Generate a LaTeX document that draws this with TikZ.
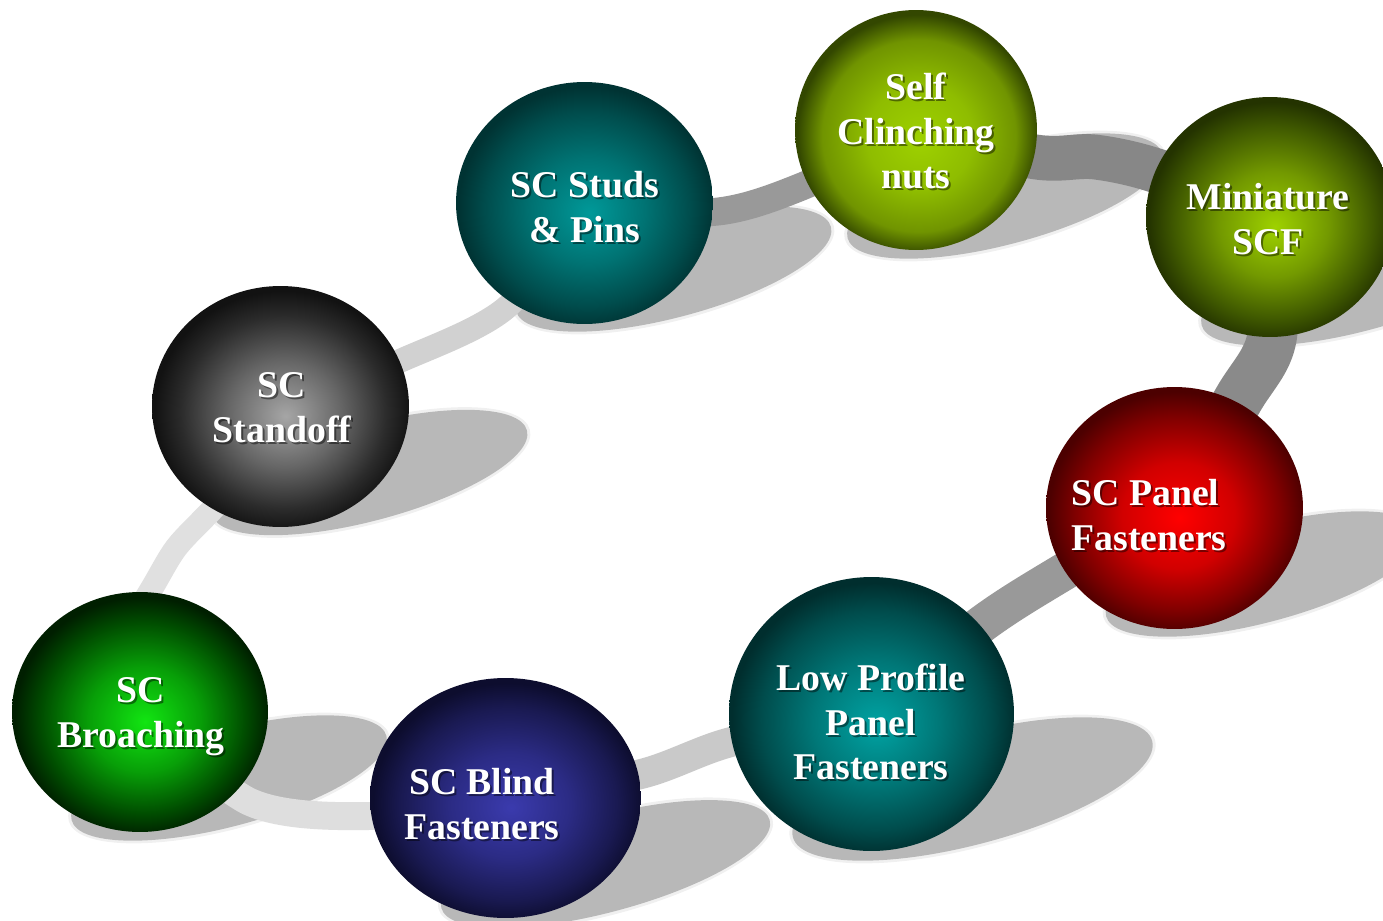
\documentclass[tikz,border=0pt]{standalone}
\usepackage{fontspec}
\setmainfont{Liberation Serif}
\usetikzlibrary{shapes.geometric,calc}
\pgfdeclarelayer{bg}
\pgfdeclarelayer{shad}
\pgfdeclarelayer{ringl}
\pgfsetlayers{bg,shad,ringl,main}
\newcommand\ballshade[5]{\pgfdeclareradialshading{#1}{\pgfpoint{1bp}{-2bp}}{rgb(0bp)=(#2);rgb(11bp)=(#3);rgb(20bp)=(#4);rgb(25bp)=(#5);rgb(50bp)=(#5)}}
\ballshade{shBroach}{0.07,0.9,0.07}{0.03,0.62,0.03}{0,0.3,0}{0,0.12,0}
\ballshade{shBlind}{0.23,0.23,0.68}{0.17,0.17,0.52}{0.1,0.1,0.32}{0.05,0.05,0.18}
\ballshade{shLow}{0,0.64,0.64}{0,0.47,0.47}{0,0.3,0.3}{0,0.18,0.18}
\ballshade{shPanel}{1,0,0}{0.82,0,0}{0.5,0,0}{0.3,0,0}
\ballshade{shMini}{0.62,0.82,0}{0.45,0.6,0}{0.25,0.35,0}{0.14,0.2,0}
\ballshade{shNuts}{0.62,0.82,0}{0.56,0.74,0}{0.44,0.58,0}{0.2,0.28,0}
\ballshade{shStuds}{0,0.6,0.6}{0,0.45,0.45}{0,0.3,0.3}{0,0.2,0.2}
\ballshade{shStand}{0.65,0.65,0.65}{0.4,0.4,0.4}{0.17,0.17,0.17}{0.07,0.07,0.07}
\newcommand\balllabel[4][center]{%
  \node[lblsh, align=#1] (#2s) at ($#3+(2,2)$) {#4};
  \node[lbl, align=#1] (#2) at #3 {#4};}
\newcommand\ballshadow[5]{%
  \coordinate (#1sc) at ($(#1)+(#2,#3)$);
  \fill[shadowsoft, rotate around={15:(#1sc)}] (#1sc) ellipse ({#4+0.06cm} and {#5+0.06cm});
  \fill[shadowfill, rotate around={15:(#1sc)}] (#1sc) ellipse (#4 and #5);}
\begin{document}
\begin{tikzpicture}[x=0.02cm,y=-0.02cm,
  ball/.style={shape=ellipse, inner sep=0pt, shade, draw=none},
  lbl/.style={font=\bfseries\fontsize{21.5}{25.5}\selectfont, text=white, inner sep=0pt},
  lblsh/.style={lbl, text=black, opacity=0.45},
  ringseg/.style={line cap=butt},
  shadowfill/.style={fill=black, opacity=0.23},
  shadowsoft/.style={fill=black, opacity=0.06}]
\useasboundingbox (0,0) rectangle (1383,920);
\begin{pgfonlayer}{bg}
\fill[white] (0,0) rectangle (1383,920);
\end{pgfonlayer}
% spheres
\node[ball, shading=shBroach, minimum width=5.12cm, minimum height=4.8cm] (broach) at (140,712) {};
\node[ball, shading=shBlind, minimum width=5.42cm, minimum height=4.8cm] (blind) at (505.5,798) {};
\node[ball, shading=shLow, minimum width=5.7cm, minimum height=5.48cm] (low) at (871.5,714) {};
\node[ball, shading=shPanel, minimum width=5.14cm, minimum height=4.84cm] (panel) at (1174.5,508) {};
\node[ball, shading=shMini, minimum width=4.96cm, minimum height=4.8cm] (mini) at (1270,217) {};
\node[ball, shading=shNuts, minimum width=4.84cm, minimum height=4.8cm] (nuts) at (916,130) {};
\node[ball, shading=shStuds, minimum width=5.14cm, minimum height=4.84cm] (studs) at (584.5,203) {};
\node[ball, shading=shStand, minimum width=5.14cm, minimum height=4.82cm] (stand) at (280.5,406.5) {};
% labels
\balllabel{tbroach}{(141,717)}{SC\\Broaching}
\balllabel{tstand}{(282,408)}{SC\\Standoff}
\balllabel{tstuds}{(585,207)}{SC Studs\\\& Pins}
\balllabel{tnuts}{(916,131)}{Self\\Clinching\\nuts}
\balllabel{tmini}{(1268,219)}{Miniature\\SCF}
\balllabel[left]{tpanel}{(1149,515)}{SC Panel\\Fasteners}
\balllabel{tlow}{(871,722)}{Low Profile\\Panel\\Fasteners}
\balllabel{tblind}{(482,804)}{SC Blind\\Fasteners}
% shadows
\begin{pgfonlayer}{shad}
\ballshadow{broach}{89}{66}{3.26cm}{0.96cm}
\ballshadow{blind}{100}{66}{3.4cm}{0.96cm}
\ballshadow{low}{101}{75}{3.72cm}{1.1cm}
\ballshadow{panel}{89}{66}{3.26cm}{0.96cm}
\ballshadow{mini}{89}{66}{3.26cm}{0.96cm}
\ballshadow{nuts}{89}{66}{3.26cm}{0.96cm}
\ballshadow{studs}{89}{66}{3.26cm}{0.96cm}
\ballshadow{stand}{89}{66}{3.26cm}{0.96cm}
\end{pgfonlayer}
% ring
\begin{pgfonlayer}{ringl}
\coordinate (bsA) at ($(broach.center)+(-18,-74)$);
\coordinate (bsB) at ($(stand.center)+(-41,75)$);
\draw[ringseg, black!12, line width=13.2pt] plot[smooth] coordinates {(bsA) (152,588) (176,548) (208,514) (bsB)};
\draw[ringseg, black!18, line width=13.6pt] plot[smooth] coordinates {(stand.center) (402,360) (507,307) (studs.center)};
\draw[ringseg, black!40, line width=15.9pt] plot[smooth] coordinates {(studs.center) (713,212) (803,186) (nuts.center)};
\draw[ringseg, black!47, line width=25.5pt] plot[smooth] coordinates {(nuts.center) (1036,157) (1095,157) (1160,172) (mini.center)};
\draw[ringseg, black!46, line width=28.3pt] plot[smooth] coordinates {(mini.center) (1272,337) (1238,400) (panel.center)};
\draw[ringseg, black!40, line width=21.5pt] plot[smooth] coordinates {(panel.center) (1065,571) (982,624) (low.center)};
\draw[ringseg, black!21, line width=17pt] plot[smooth] coordinates {(low.center) (731,742) (641,774) (blind.center)};
\draw[ringseg, black!13, line width=15.9pt] plot[smooth] coordinates {(blind.center) (370,816) (250,802) (broach.center)};
\end{pgfonlayer}
\end{tikzpicture}
\end{document}
